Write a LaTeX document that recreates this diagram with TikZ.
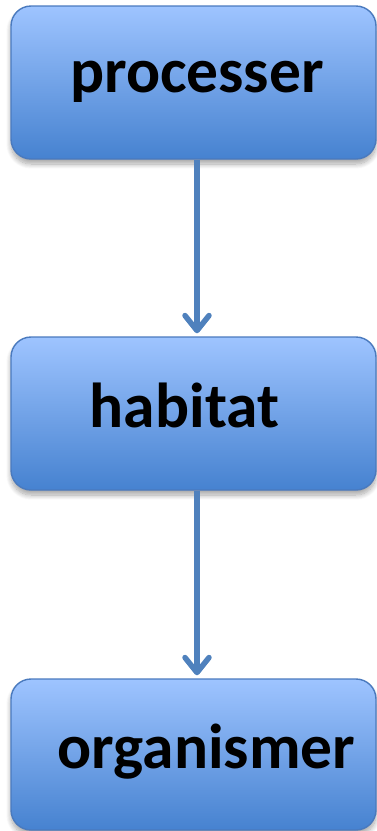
\documentclass[tikz,border=0pt]{standalone}
\usepackage{fontspec}
\setmainfont{Carlito}
\usetikzlibrary{arrows.meta,shadows.blur,calc}
\definecolor{boxtop}{RGB}{158,196,255}
\definecolor{boxbot}{RGB}{70,130,208}
\definecolor{boxline}{RGB}{74,122,190}
\definecolor{flow}{RGB}{79,129,189}
\tikzset{
  stagebox/.style={draw=boxline, line width=1.4pt, rounded corners=20pt,
    top color=boxtop, bottom color=boxbot, minimum width=365pt,
    inner sep=0pt,
    blur shadow={shadow xshift=0pt, shadow yshift=-5pt, shadow blur steps=10,
      shadow blur radius=5pt, shadow opacity=35}},
  stagetext/.style={anchor=base, inner sep=0pt, font=\bfseries\fontsize{63.5}{63.5}\selectfont},
  flowarrow/.style={draw=flow, line width=5.5pt,
    -{Straight Barb[length=15pt,width=24pt,round]}}
}
\begin{document}
\begin{tikzpicture}[x=1pt,y=-1pt]
  \useasboundingbox (0,0) rectangle (377,831);
  % three stacked stages
  \node[stagebox, minimum height=153pt] (b1) at (193.5,82.5) {};
  \node[stagebox, minimum height=153pt] (b2) at (193.5,413.5) {};
  \node[stagebox, minimum height=151pt] (b3) at (193.5,754.5) {};
  % labels
  \node[stagetext] (t1) at (197,92) {processer};
  \node[stagetext] (t2) at (184.5,427) {habitat};
  \node[stagetext] (t3) at (206.5,768) {organismer};
  % connectors
  \draw[flowarrow] ($(b1.south)+(3.5,0)$) -- ($(b2.north)+(3.5,-3)$);
  \draw[flowarrow] ($(b2.south)+(3.5,0)$) -- ($(b3.north)+(3.5,-3)$);
\end{tikzpicture}
\end{document}
